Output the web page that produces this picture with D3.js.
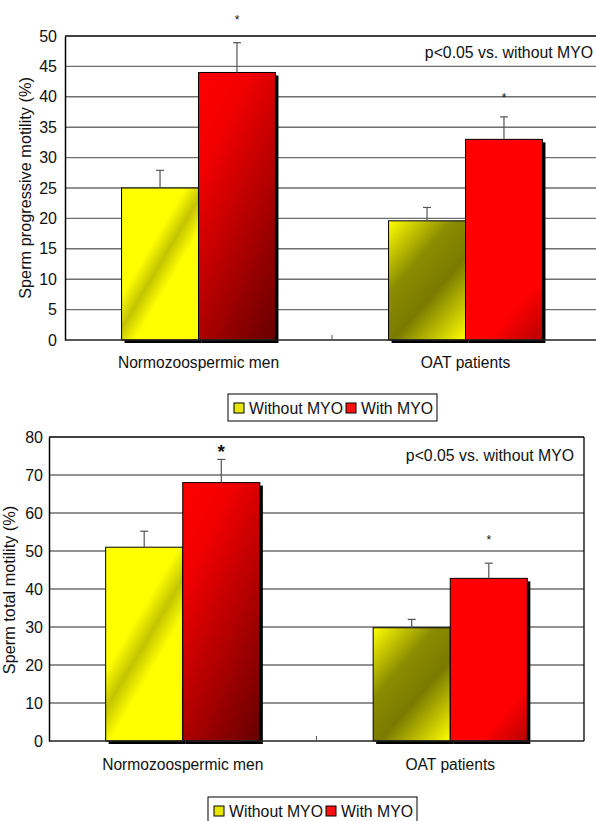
<!DOCTYPE html>
<html>
<head>
<meta charset="utf-8">
<script src="https://cdn.jsdelivr.net/npm/d3@7"></script>
<style>
  body { margin: 0; background: #fff; }
  svg { display: block; font-family: "Liberation Sans", Arial, sans-serif; }
</style>
</head>
<body>
<svg id="chart" width="596" height="821"></svg>
<script>
// data
const categories = ["Normozoospermic men", "OAT patients"];
const seriesLabels = ["Without MYO", "With MYO"];

const progressiveWithout = [25, 19.6];
const progressiveWithoutErr = [2.9, 2.2];
const progressiveWith = [44, 33];
const progressiveWithErr = [4.9, 3.7];
const progressiveStars = [53.1, 40.3];
const progressiveTicks = [0, 5, 10, 15, 20, 25, 30, 35, 40, 45, 50];

const totalWithout = [51, 29.8];
const totalWithoutErr = [4.2, 2.2];
const totalWith = [68, 42.8];
const totalWithErr = [6.1, 4.0];
const totalStars = [77.3, 53.6];
const totalTicks = [0, 10, 20, 30, 40, 50, 60, 70, 80];

const note = "p<0.05 vs. without MYO";

const svg = d3.select("#chart");
const defs = svg.append("defs");

// fill looks per group/series
const looks = {
  "0-0": { dir: [0.86, 0.51], stops: [[0, "#ffff00"], [0.38, "#ffff00"], [0.5, "#c4c400"], [0.62, "#ffff00"], [1, "#ffff00"]] },
  "0-1": { dir: [0.9, 0.44], stops: [[0, "#ff0000"], [0.25, "#f20000"], [1, "#660000"]] },
  "1-0": { dir: [0.75, 0.66], stops: [[0, "#ffff00"], [0.35, "#8c8c00"], [0.6, "#7a7a00"], [1, "#ffff00"]] },
  "1-1": { dir: [0.75, 0.66], stops: [[0, "#ff0000"], [0.78, "#ff0000"], [1, "#b80000"]] }
};

function gradientFor(id, look, x, y, w, h) {
  const [dx, dy] = look.dir;
  const cx = x + w / 2, cy = y + h / 2;
  const ext = (w * Math.abs(dx) + h * Math.abs(dy)) / 2;
  const g = defs.append("linearGradient")
    .attr("id", id)
    .attr("gradientUnits", "userSpaceOnUse")
    .attr("x1", cx - dx * ext).attr("y1", cy - dy * ext)
    .attr("x2", cx + dx * ext).attr("y2", cy + dy * ext);
  g.selectAll("stop").data(look.stops).join("stop")
    .attr("offset", d => d[0]).attr("stop-color", d => d[1]);
  return `url(#${id})`;
}

function drawPanel(p) {
  const g = svg.append("g");
  const y = d3.scaleLinear().domain([0, p.ticks[p.ticks.length - 1]]).range([p.bottom, p.top]);
  const x = d3.scaleBand().domain(categories).range([p.left, p.right]).padding(0);
  const xs = d3.scaleBand().domain(seriesLabels).range([0, x.bandwidth()]).paddingInner(0).paddingOuter(0.735);

  // gridlines
  g.append("g").selectAll("line").data(p.ticks.filter(t => t > 0)).join("line")
    .attr("x1", p.left).attr("x2", p.right)
    .attr("y1", d => y(d)).attr("y2", d => y(d))
    .attr("stroke", (d, i, arr) => i === arr.length - 1 ? "#000" : "#6e6e6e")
    .attr("stroke-width", (d, i, arr) => i === arr.length - 1 ? 1.5 : 1.4);

  if (p.frameRight) {
    g.append("line").attr("x1", p.right).attr("x2", p.right)
      .attr("y1", p.top).attr("y2", p.bottom).attr("stroke", "#000").attr("stroke-width", 1.3);
  }

  // y axis
  const yAxis = g.append("g").attr("transform", `translate(${p.left},0)`)
    .call(d3.axisLeft(y).tickValues(p.ticks).tickSize(0).tickPadding(p.tickPad));
  yAxis.select(".domain").attr("stroke", "#000").attr("stroke-width", 1.5);
  yAxis.selectAll("text").attr("font-size", 16).attr("fill", "#111")
    .attr("font-family", "Liberation Sans, Arial, sans-serif");

  g.append("text")
    .attr("transform", `translate(${p.titleX},${p.titleY}) rotate(-90)`)
    .attr("text-anchor", "middle").attr("font-size", 16.3).attr("fill", "#111")
    .text(p.title);

  // bars
  const rows = [];
  categories.forEach((c, gi) => {
    rows.push({ gi, si: 0, cat: c, v: p.without[gi], e: p.withoutErr[gi] });
    rows.push({ gi, si: 1, cat: c, v: p.withv[gi], e: p.withErr[gi], star: p.stars[gi], bold: p.boldStar[gi] });
  });

  const bars = g.append("g").selectAll("g").data(rows).join("g");
  bars.append("rect")
    .attr("x", d => x(d.cat) + xs(seriesLabels[d.si]) + 3)
    .attr("y", d => y(d.v) + 3)
    .attr("width", xs.bandwidth())
    .attr("height", d => y(0) - y(d.v))
    .attr("fill", "#000");
  bars.append("rect")
    .attr("x", d => x(d.cat) + xs(seriesLabels[d.si]))
    .attr("y", d => y(d.v))
    .attr("width", xs.bandwidth())
    .attr("height", d => y(0) - y(d.v))
    .attr("fill", d => gradientFor(`${p.id}-${d.gi}-${d.si}`, looks[`${d.gi}-${d.si}`],
      x(d.cat) + xs(seriesLabels[d.si]), y(d.v), xs.bandwidth(), y(0) - y(d.v)))
    .attr("stroke", "#000").attr("stroke-width", 1);

  // zero line + category separator
  g.append("line").attr("x1", p.left).attr("x2", p.right)
    .attr("y1", y(0)).attr("y2", y(0)).attr("stroke", "#222").attr("stroke-width", 1.6);
  g.append("line").attr("x1", x(categories[1])).attr("x2", x(categories[1]))
    .attr("y1", y(0)).attr("y2", y(0) - 5).attr("stroke", "#555").attr("stroke-width", 1);

  // error bars
  const eb = g.append("g").attr("stroke", "#555").attr("stroke-width", 1.2);
  eb.selectAll("line.v").data(rows).join("line").attr("class", "v")
    .attr("x1", d => x(d.cat) + xs(seriesLabels[d.si]) + xs.bandwidth() / 2)
    .attr("x2", d => x(d.cat) + xs(seriesLabels[d.si]) + xs.bandwidth() / 2)
    .attr("y1", d => y(d.v)).attr("y2", d => y(d.v + d.e));
  eb.selectAll("line.c").data(rows).join("line").attr("class", "c")
    .attr("x1", d => x(d.cat) + xs(seriesLabels[d.si]) + xs.bandwidth() / 2 - 4)
    .attr("x2", d => x(d.cat) + xs(seriesLabels[d.si]) + xs.bandwidth() / 2 + 4)
    .attr("y1", d => y(d.v + d.e)).attr("y2", d => y(d.v + d.e));

  // significance stars
  g.append("g").selectAll("text").data(rows.filter(d => d.star != null)).join("text")
    .attr("x", d => x(d.cat) + xs(seriesLabels[d.si]) + xs.bandwidth() / 2)
    .attr("y", d => y(d.star) + (d.bold ? 11 : 7))
    .attr("text-anchor", "middle")
    .attr("font-size", d => d.bold ? 19 : 12)
    .attr("font-weight", d => d.bold ? "bold" : "normal")
    .attr("fill", "#111")
    .text("*");

  g.append("text").attr("x", p.noteX).attr("y", p.noteY)
    .attr("text-anchor", "end").attr("font-size", 15.8).attr("fill", "#111").text(note);

  // category labels
  g.append("g").selectAll("text").data(categories).join("text")
    .attr("x", d => x(d) + x.bandwidth() / 2)
    .attr("y", p.catY)
    .attr("text-anchor", "middle").attr("font-size", 15.6).attr("fill", "#111")
    .text(d => d);

  // legend
  const lg = g.append("g").attr("transform", `translate(${p.legendX},${p.legendY})`);
  lg.append("rect").attr("width", 209).attr("height", 27)
    .attr("fill", "#fff").attr("stroke", "#000").attr("stroke-width", 1);
  const legendLooks = [
    { dir: [0.7, 0.7], stops: [[0, "#e6e600"], [1, "#666600"]] },
    { dir: [0.7, 0.7], stops: [[0, "#ff1010"], [1, "#9a0000"]] }
  ];
  const offs = [6, 118];
  seriesLabels.forEach((s, i) => {
    const sx = offs[i], sy = 9;
    lg.append("rect").attr("x", sx).attr("y", sy).attr("width", 10).attr("height", 10)
      .attr("fill", gradientFor(`${p.id}-leg-${i}`, legendLooks[i], p.legendX + sx, p.legendY + sy, 10, 10))
      .attr("stroke", "#000").attr("stroke-width", 1);
    lg.append("text").attr("x", sx + 15).attr("y", 19.5)
      .attr("font-size", 15.8).attr("fill", "#111").text(s);
  });
}

drawPanel({
  id: "prog", top: 36, bottom: 340, left: 65, right: 599,
  ticks: progressiveTicks, tickPad: 8,
  without: progressiveWithout, withoutErr: progressiveWithoutErr,
  withv: progressiveWith, withErr: progressiveWithErr,
  stars: progressiveStars, boldStar: [false, false],
  title: "Sperm progressive motility (%)", titleX: 31, titleY: 188,
  noteX: 593, noteY: 58, catY: 368,
  legendX: 228, legendY: 394, frameRight: false
});

drawPanel({
  id: "total", top: 437, bottom: 741, left: 49, right: 584,
  ticks: totalTicks, tickPad: 6,
  without: totalWithout, withoutErr: totalWithoutErr,
  withv: totalWith, withErr: totalWithErr,
  stars: totalStars, boldStar: [true, false],
  title: "Sperm total motility (%)", titleX: 15, titleY: 590,
  noteX: 574, noteY: 461, catY: 770,
  legendX: 208, legendY: 797, frameRight: true
});
</script>
</body>
</html>
